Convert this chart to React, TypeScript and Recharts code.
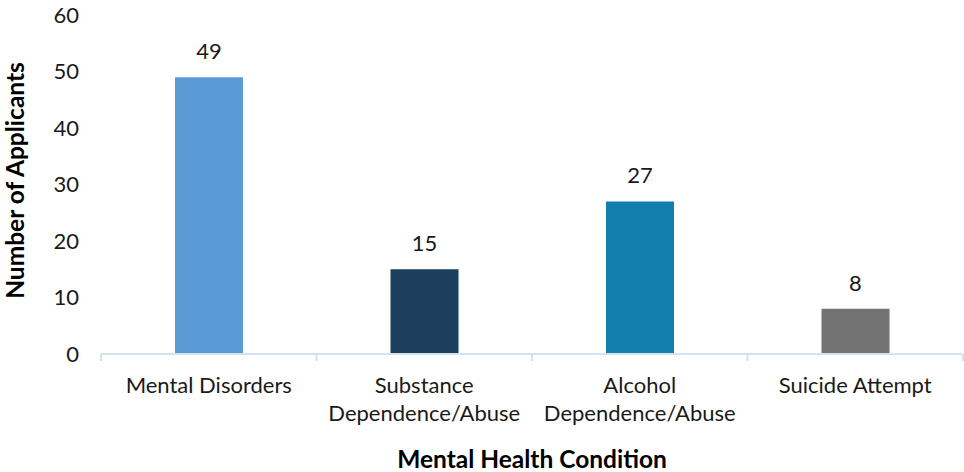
import { BarChart, Bar, XAxis, YAxis, Cell, LabelList } from 'recharts'

const categories = ['Mental Disorders', 'Substance\nDependence/Abuse', 'Alcohol\nDependence/Abuse', 'Suicide Attempt']
const applicants = [49, 15, 27, 8]
const barColors = ['#5b9bd5', '#1c3f5e', '#127daf', '#737373']
const yTicks = [0, 10, 20, 30, 40, 50, 60]

const data = categories.map((name, i) => ({ name, value: applicants[i] }))

const FONT = 'Lato, "Open Sans", sans-serif'
const AXIS_COLOR = '#d5e2f1'

function CategoryTick(props: any) {
  const { x, y, payload, index, visibleTicksCount } = props
  const half = payload?.offset ?? 107.75
  const lines = String(payload.value).split('\n')
  return (
    <g>
      <line x1={x - half} x2={x - half} y1={y} y2={y + 7} stroke={AXIS_COLOR} strokeWidth={2} />
      {index === visibleTicksCount - 1 && (
        <line x1={x + half} x2={x + half} y1={y} y2={y + 7} stroke={AXIS_COLOR} strokeWidth={2} />
      )}
      <text x={x} y={y + 39} textAnchor="middle" fill="#1a1a1a" fontSize={22} fontFamily={FONT}>
        {lines.map((l, i) => (
          <tspan key={i} x={x} dy={i === 0 ? 0 : 28}>{l}</tspan>
        ))}
      </text>
    </g>
  )
}

function YTitle(props: any) {
  const { viewBox } = props
  const cy = viewBox.y + viewBox.height / 2 - 4
  const cx = 15
  return (
    <text
      x={cx}
      y={cy}
      dy="0.36em"
      transform={`rotate(-90 ${cx} ${cy})`}
      textAnchor="middle"
      fontSize={24.5}
      fontWeight={700}
      fontFamily={FONT}
      fill="#000"
    >
      Number of Applicants
    </text>
  )
}

function XTitle(props: any) {
  const { viewBox } = props
  const cx = viewBox.x + viewBox.width / 2
  return (
    <text x={cx} y={468} textAnchor="middle" fontSize={24.5} fontWeight={700} fontFamily={FONT} fill="#000">
      Mental Health Condition
    </text>
  )
}

export default function App() {
  return (
    <div style={{ position: 'absolute', left: 0, top: 0, width: 964, height: 472, background: '#fff' }}>
      <BarChart width={964} height={472} data={data} margin={{ top: 15, right: 1, bottom: 0, left: 0 }}>
        <XAxis
          dataKey="name"
          height={118}
          interval={0}
          tickLine={false}
          tickSize={0}
          tickMargin={0}
          axisLine={{ stroke: AXIS_COLOR, strokeWidth: 2 }}
          tick={<CategoryTick />}
          label={<XTitle />}
        />
        <YAxis
          width={101}
          domain={[0, 60]}
          ticks={yTicks}
          interval={0}
          axisLine={false}
          tickLine={false}
          tickSize={0}
          tickMargin={22}
          tick={{ fill: '#1a1a1a', fontSize: 22, fontFamily: FONT }}
          label={<YTitle />}
        />
        <Bar dataKey="value" barSize={68} isAnimationActive={false}>
          {data.map((d, i) => (
            <Cell key={d.name} fill={barColors[i]} />
          ))}
          <LabelList dataKey="value" position="top" offset={18} fill="#1a1a1a" fontSize={22} fontFamily={FONT} />
        </Bar>
      </BarChart>
    </div>
  )
}
